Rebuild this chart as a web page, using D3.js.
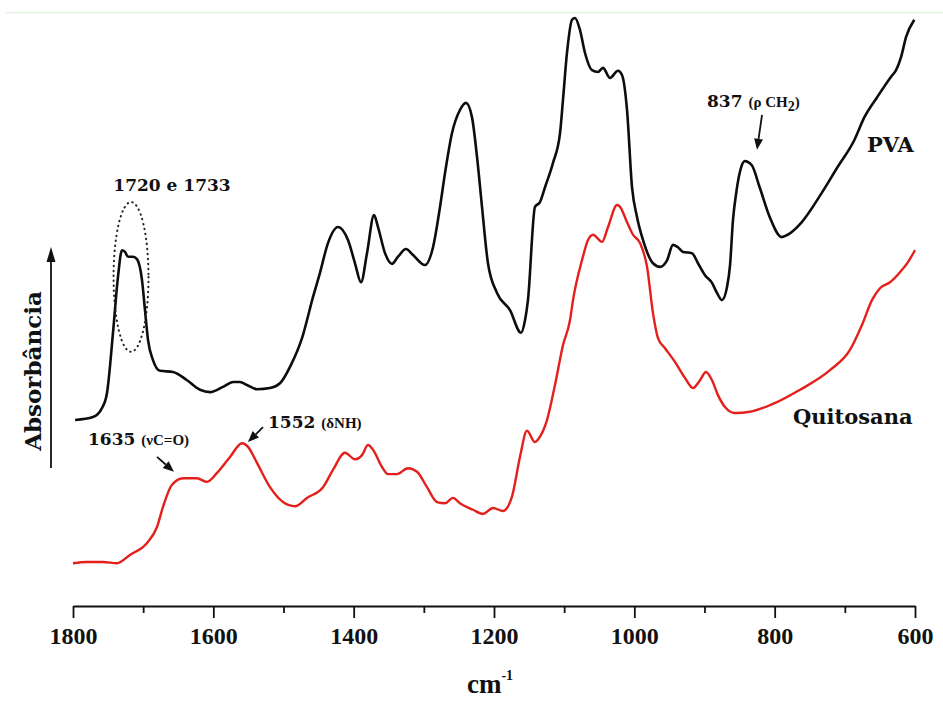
<!DOCTYPE html>
<html>
<head>
<meta charset="utf-8">
<script src="https://cdn.jsdelivr.net/npm/d3@7"></script>
<style>
  html, body { margin: 0; padding: 0; background: #fff; }
  svg { display: block; }
</style>
</head>
<body>
<svg id="chart" width="943" height="702"></svg>
<script>
// FTIR spectra: wavenumber (cm-1) and absorbance in arbitrary, offset units
const pvaWavenumber = [1797,1771.5,1758.7,1751.5,1743,1735.9,1730.2,1725.9,1721.6,1714.5,1708.8,1701.7,1697.4,1693.1,1686,1676,1657.5,1637.5,1619,1604.7,1586.2,1571.8,1562,1552,1537.8,1519.2,1505,1489.3,1473.6,1458,1448,1436.6,1422.3,1408.1,1398.1,1389.5,1381,1371,1365.3,1355.3,1345.4,1336.8,1325.4,1315.4,1298.3,1286.9,1276.9,1269.8,1259.9,1248.5,1239.9,1231.4,1224.2,1217.1,1208.6,1195.7,1177.2,1161.5,1155.8,1151.6,1141.6,1134.5,1127.3,1115.9,1105.9,1101.7,1096,1088.8,1084.6,1077.5,1070.3,1060.3,1051.8,1044.7,1034.7,1023.3,1017.6,1010.4,1003.3,996.2,987.6,973.4,963.4,953.4,944.9,937.8,930.6,917.8,909.3,899.3,889.3,882.2,875.1,867.9,863.6,859.4,855.2,849.5,842.6,832.6,821.4,807.1,790,781.5,761.6,733.1,710.3,686.2,672.1,653.7,634.1,627,619.9,612.7,601];
const pvaAbsorbance = [0.313,0.318,0.333,0.359,0.46,0.554,0.599,0.596,0.588,0.588,0.584,0.549,0.498,0.448,0.414,0.396,0.394,0.38,0.364,0.36,0.369,0.377,0.377,0.372,0.365,0.367,0.375,0.406,0.451,0.52,0.561,0.611,0.638,0.616,0.577,0.545,0.594,0.658,0.638,0.594,0.576,0.588,0.601,0.591,0.574,0.604,0.672,0.729,0.796,0.835,0.847,0.823,0.756,0.672,0.577,0.527,0.498,0.46,0.481,0.515,0.672,0.68,0.705,0.746,0.796,0.852,0.931,0.987,0.99,0.97,0.931,0.902,0.899,0.906,0.889,0.901,0.894,0.835,0.705,0.655,0.616,0.577,0.571,0.582,0.608,0.604,0.596,0.594,0.577,0.557,0.544,0.527,0.515,0.537,0.574,0.65,0.692,0.731,0.749,0.742,0.705,0.655,0.621,0.625,0.646,0.695,0.739,0.785,0.823,0.857,0.891,0.902,0.924,0.958,0.987];

const quitWavenumber = [1800,1780,1757.2,1737.3,1718.8,1694.5,1680.3,1671.7,1658.9,1643.2,1623.3,1609,1594.8,1576.2,1559.1,1550.6,1537.8,1519.2,1500.7,1483.6,1466.5,1443.7,1429.5,1412.4,1398.1,1388.1,1379.6,1372.4,1359.6,1351.1,1338.3,1322.6,1309.7,1295.5,1281.2,1269.8,1258.4,1248.5,1229.9,1215.7,1201.4,1187.2,1174.4,1163,1153,1141.6,1134.5,1124.5,1113.1,1101.7,1091.7,1087.4,1074.6,1066,1058.9,1046.1,1037.5,1024.7,1020.4,1010.4,1001.9,991.9,981.9,973.4,966.3,956.3,942.1,927.8,916.4,906.4,897.9,889.3,880.8,870.8,856.6,835.2,806.7,763.9,721.2,692.7,675.6,661.3,649.9,635.6,621.4,610,600];
const quitAbsorbance = [0.072,0.074,0.074,0.072,0.086,0.106,0.133,0.167,0.204,0.215,0.215,0.209,0.224,0.251,0.274,0.268,0.241,0.2,0.175,0.168,0.182,0.2,0.229,0.258,0.247,0.254,0.271,0.263,0.234,0.222,0.222,0.232,0.226,0.2,0.175,0.173,0.182,0.173,0.162,0.155,0.165,0.16,0.184,0.251,0.295,0.276,0.285,0.313,0.372,0.439,0.481,0.515,0.582,0.616,0.625,0.613,0.638,0.675,0.672,0.646,0.625,0.611,0.571,0.493,0.451,0.434,0.411,0.384,0.367,0.38,0.394,0.38,0.355,0.335,0.325,0.327,0.338,0.364,0.397,0.431,0.473,0.515,0.535,0.545,0.562,0.579,0.599];

const majorTicks = [1800,1600,1400,1200,1000,800,600];
const minorTicks = [1700,1500,1300,1100,900,700];

const seriesNames = ["PVA", "Quitosana"];
const axisTitleX = "cm";
const axisTitleY = "Absorbância";

const svg = d3.select("#chart");
const W = 943, H = 702;

const x = d3.scaleLinear().domain([1800, 600]).range([73, 915]);
const y = d3.scaleLinear().domain([0, 1]).range([606, 12]);

svg.append("rect").attr("width", W).attr("height", H).attr("fill", "#fff");

// faint frame line along the top
svg.append("line")
  .attr("x1", 5).attr("x2", W).attr("y1", 12.5).attr("y2", 12.5)
  .attr("stroke", "#e4f3e2").attr("stroke-width", 1.5);

// x axis: minor ticks, then major ticks with labels
const minorAxis = d3.axisBottom(x).tickValues(minorTicks).tickSize(7).tickSizeOuter(0).tickFormat("");
const gMinor = svg.append("g").attr("transform", `translate(0,${y(0)})`).call(minorAxis);
gMinor.select(".domain").remove();
gMinor.selectAll("line").attr("stroke", "#111").attr("stroke-width", 1.8);

const majorAxis = d3.axisBottom(x).tickValues(majorTicks).tickSize(12).tickSizeOuter(0).tickPadding(9).tickFormat(d3.format("d"));
const gMajor = svg.append("g").attr("transform", `translate(0,${y(0)})`).call(majorAxis);
gMajor.select(".domain").attr("stroke", "#111").attr("stroke-width", 2.2);
gMajor.selectAll(".tick line").attr("stroke", "#111").attr("stroke-width", 1.8);
gMajor.selectAll(".tick text")
  .attr("font-family", "'Liberation Serif', serif")
  .attr("font-weight", "bold")
  .attr("font-size", 24)
  .attr("fill", "#111");

// x axis title cm^-1
const xt = svg.append("text")
  .attr("x", 490).attr("y", 693)
  .attr("text-anchor", "middle")
  .attr("font-family", "'Liberation Serif', serif")
  .attr("font-weight", "bold")
  .attr("font-size", 27)
  .attr("fill", "#111");
xt.append("tspan").text(axisTitleX);
xt.append("tspan").attr("font-size", 14).attr("dy", -13).text("-1");

// y axis: arrow and rotated title
svg.append("line")
  .attr("x1", 51).attr("x2", 51).attr("y1", 468).attr("y2", 258)
  .attr("stroke", "#111").attr("stroke-width", 1.8);
svg.append("path")
  .attr("d", d3.line()([[51, 247], [46.5, 262], [55.5, 262]]) + "Z")
  .attr("fill", "#111");
svg.append("text")
  .attr("transform", "translate(41,371) rotate(-90)")
  .attr("text-anchor", "middle")
  .attr("font-family", "'DejaVu Serif', serif")
  .attr("font-weight", "bold")
  .attr("font-size", 23)
  .attr("fill", "#111")
  .text(axisTitleY);

// spectra
const line = d3.line()
  .x(d => x(d[0]))
  .y(d => y(d[1]))
  .curve(d3.curveMonotoneX);

const pva = pvaWavenumber.map((w, i) => [w, pvaAbsorbance[i]]);
const quit = quitWavenumber.map((w, i) => [w, quitAbsorbance[i]]);

svg.append("path").datum(quit)
  .attr("d", line).attr("fill", "none")
  .attr("stroke", "#e3201b").attr("stroke-width", 2.4)
  .attr("stroke-linejoin", "round");
svg.append("path").datum(pva)
  .attr("d", line).attr("fill", "none")
  .attr("stroke", "#0d0d0d").attr("stroke-width", 2.6)
  .attr("stroke-linejoin", "round");

// series labels
const labelFont = "'DejaVu Serif', serif";
const noteFont = "'Liberation Serif', serif";
svg.append("text")
  .attr("x", x(668.4)).attr("y", y(0.764))
  .attr("font-family", labelFont).attr("font-weight", "bold")
  .attr("font-size", 21).attr("fill", "#111")
  .text(seriesNames[0]);
svg.append("text")
  .attr("x", x(773.9)).attr("y", y(0.306))
  .attr("font-family", labelFont).attr("font-weight", "bold")
  .attr("font-size", 21).attr("fill", "#111")
  .text(seriesNames[1]);

// band annotations
function arrow(w0, v0, w1, v1) {
  const x0 = x(w0), y0 = y(v0), x1 = x(w1), y1 = y(v1);
  const a = Math.atan2(y1 - y0, x1 - x0);
  const len = 11, half = 4.5;
  const bx = x1 - len * Math.cos(a), by = y1 - len * Math.sin(a);
  svg.append("line")
    .attr("x1", x0).attr("y1", y0).attr("x2", bx).attr("y2", by)
    .attr("stroke", "#111").attr("stroke-width", 1.8);
  svg.append("path")
    .attr("d", d3.line()([
      [x1, y1],
      [bx + half * Math.sin(a), by - half * Math.cos(a)],
      [bx - half * Math.sin(a), by + half * Math.cos(a)]
    ]) + "Z")
    .attr("fill", "#111");
}

function bandLabel(w, v, main, note, noteSize, sub) {
  const t = svg.append("text")
    .attr("x", x(w)).attr("y", y(v))
    .attr("font-family", labelFont).attr("font-weight", "bold")
    .attr("font-size", 17).attr("fill", "#111");
  t.append("tspan").text(main);
  if (note) {
    t.append("tspan").attr("font-family", noteFont).attr("font-size", noteSize).attr("dx", 6).text(note);
    if (sub) {
      t.append("tspan").attr("font-family", noteFont).attr("font-size", noteSize - 1).attr("dy", 4).text(sub);
      t.append("tspan").attr("font-family", noteFont).attr("font-size", noteSize).attr("dy", -4).text(")");
    }
  }
  return t;
}

// C=O doublet of PVA, circled
svg.append("text")
  .attr("x", x(1658.9)).attr("y", y(0.699))
  .attr("text-anchor", "middle")
  .attr("font-family", labelFont).attr("font-weight", "bold")
  .attr("font-size", 17).attr("fill", "#111")
  .text("1720 e 1733");
svg.append("ellipse")
  .attr("cx", x(1717.3)).attr("cy", y(0.554))
  .attr("rx", x(1717.3) - x(1742.2)).attr("ry", y(0.554 - 0.126) - y(0.554))
  .attr("fill", "none").attr("stroke", "#222").attr("stroke-width", 2)
  .attr("stroke-dasharray", "0.5 4.5").attr("stroke-linecap", "round");

bandLabel(896.4, 0.84, "837", "(ρ CH", 15, "2");
arrow(818.0, 0.827, 825.2, 0.768);

bandLabel(1778.6, 0.271, "1635", "(νC=O)", 15);
arrow(1680.3, 0.251, 1656.1, 0.226);

bandLabel(1522.1, 0.300, "1552", "(δNH)", 15);
arrow(1529.2, 0.301, 1550.6, 0.276);
</script>
</body>
</html>
